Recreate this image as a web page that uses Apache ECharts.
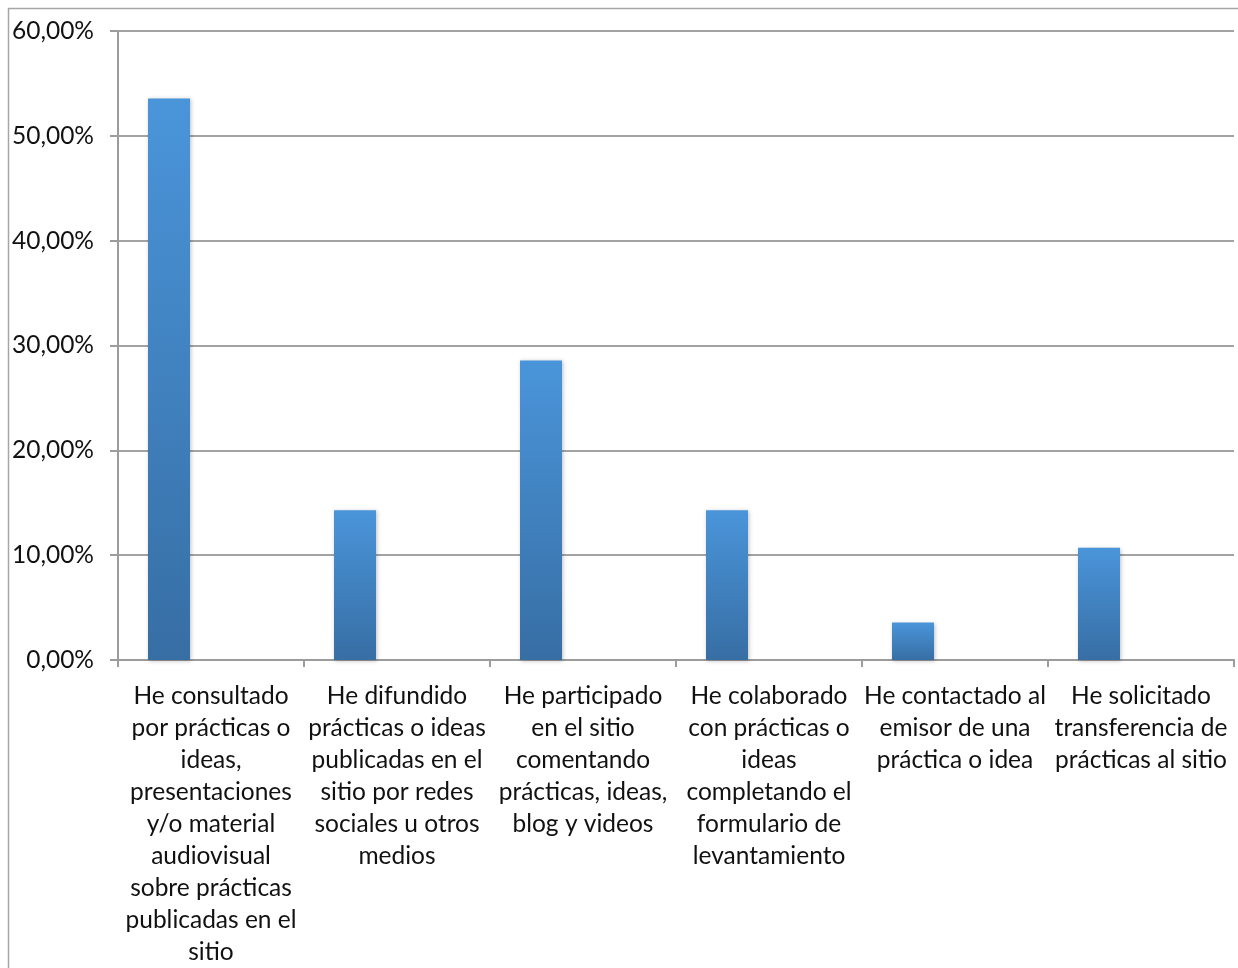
<!DOCTYPE html>
<html>
<head>
<meta charset="utf-8">
<script src="https://cdn.jsdelivr.net/npm/echarts@6/dist/echarts.min.js"></script>
<style>
  html, body { margin: 0; padding: 0; background: #ffffff; }
  #chart { width: 1238px; height: 968px; }
</style>
</head>
<body>
<div id="chart"></div>
<script>
// Categories (explicit line breaks as wrapped under each bar)
const categories = [
  'He consultado\npor prácticas o\nideas,\npresentaciones\ny/o material\naudiovisual\nsobre prácticas\npublicadas en el\nsitio',
  'He difundido\nprácticas o ideas\npublicadas en el\nsitio por redes\nsociales u otros\nmedios',
  'He participado\nen el sitio\ncomentando\nprácticas, ideas,\nblog y videos',
  'He colaborado\ncon prácticas o\nideas\ncompletando el\nformulario de\nlevantamiento',
  'He contactado al\nemisor de una\npráctica o idea',
  'He solicitado\ntransferencia de\nprácticas al sitio'
];

// Share of respondents (%)
const values = [53.57, 14.29, 28.57, 14.29, 3.57, 10.71];

// Y-axis range and step (%)
const yMin = 0;
const yMax = 60;
const yStep = 10;

const chart = echarts.init(document.getElementById('chart'));

const barColor = new echarts.graphic.LinearGradient(0, 0, 0, 1, [
  { offset: 0, color: '#4a95da' },
  { offset: 1, color: '#376ea4' }
]);

const fontFamily = 'Lato, "Open Sans", sans-serif';

chart.setOption({
  animation: false,
  backgroundColor: '#ffffff',
  graphic: [{
    type: 'rect',
    shape: { x: 8.5, y: 8.5, width: 1300, height: 1000 },
    style: { fill: 'none', stroke: '#a6a6a6', lineWidth: 1.5 },
    silent: true
  }],
  grid: { left: 118, right: 4, top: 31, bottom: 299, containLabel: false },
  xAxis: {
    type: 'category',
    data: categories,
    axisLine: { lineStyle: { color: '#9c9c9c', width: 2 } },
    axisTick: { show: true, length: 7, lineStyle: { color: '#9c9c9c', width: 2 } },
    axisLabel: {
      interval: 0,
      margin: 20,
      color: '#111111',
      fontFamily: fontFamily,
      fontSize: 24.5,
      lineHeight: 32,
      align: 'center'
    }
  },
  yAxis: {
    type: 'value',
    min: yMin,
    max: yMax,
    interval: yStep,
    axisLine: { show: true, lineStyle: { color: '#9c9c9c', width: 2 } },
    axisTick: { show: true, length: 8, lineStyle: { color: '#9c9c9c', width: 2 } },
    splitLine: { lineStyle: { color: '#a3a3a3', width: 2 } },
    axisLabel: {
      margin: 24,
      color: '#111111',
      fontFamily: fontFamily,
      fontSize: 24.5,
      formatter: v => v.toFixed(2).replace('.', ',') + '%'
    }
  },
  series: [
    {
      type: 'bar',
      data: values,
      barWidth: 42,
      barGap: '0%',
      itemStyle: {
        color: barColor,
        shadowColor: 'rgba(0,0,0,0.25)',
        shadowBlur: 4,
        shadowOffsetX: 1,
        shadowOffsetY: 1
      }
    },
    { type: 'bar', data: [], barWidth: 42, barGap: '0%' },
    { type: 'bar', data: [], barWidth: 42, barGap: '0%' }
  ]
});
</script>
</body>
</html>
